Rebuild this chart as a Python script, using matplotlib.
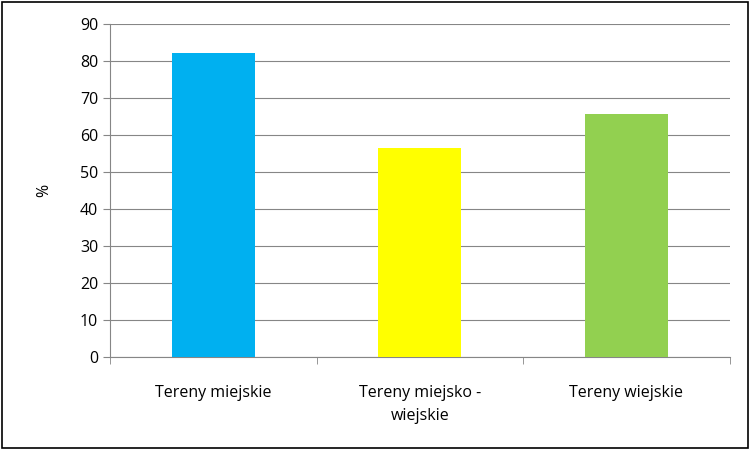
import matplotlib
matplotlib.use("Agg")
import matplotlib.pyplot as plt
from matplotlib.patches import Rectangle

categories = ["Tereny miejskie", "Tereny miejsko -\nwiejskie", "Tereny wiejskie"]
values = [82.2, 56.6, 65.7]
colors = ["#00B0F0", "#FFFF00", "#92D050"]
yticks = [0, 10, 20, 30, 40, 50, 60, 70, 80, 90]

plt.rcParams['font.family'] = ['Open Sans', 'DejaVu Sans']
fig = plt.figure(figsize=(7.53, 4.51), dpi=100)
ax = fig.add_axes([0.146, 0.208, 0.823, 0.739])
x = range(len(categories))
ax.bar(x, values, width=0.4, color=colors, zorder=3)
ax.set_xlim(-0.5, 2.5)
ax.set_ylim(0, 90)
ax.set_yticks(yticks)
ax.set_xticks(list(x))
ax.set_xticklabels(categories, fontsize=11.5, linespacing=1.6)
ax.tick_params(axis='y', labelsize=11.5, length=5, color='#868686')
ax.tick_params(axis='x', length=0, pad=20)
ax.set_xticks([-0.5, 0.5, 1.5, 2.5], minor=True)
ax.tick_params(axis='x', which='minor', length=5, color='#868686')
ax.yaxis.grid(True, color='#868686', linewidth=0.8, zorder=0)
for s in ['top', 'right']:
    ax.spines[s].set_visible(False)
for s in ['left', 'bottom']:
    ax.spines[s].set_color('#868686')
ax.set_ylabel('%', fontsize=11.5, labelpad=20)
fig.patches.append(Rectangle((0.003, 0.006), 0.99, 0.99, transform=fig.transFigure,
                             fill=False, edgecolor='black', linewidth=1.2))
fig.savefig('out.png', dpi=100)
